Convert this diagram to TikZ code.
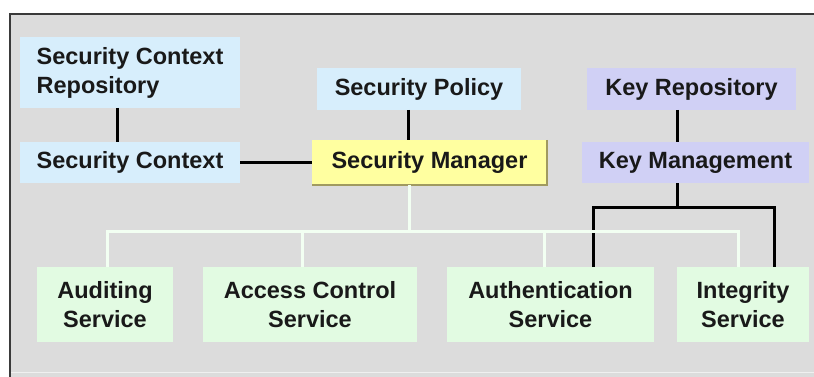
\documentclass[tikz,border=0pt]{standalone}
\usepackage{fontspec}
\setmainfont{Liberation Sans}
\definecolor{bgray}{HTML}{DCDCDC}
\definecolor{frameline}{HTML}{3A3A3A}
\definecolor{cblue}{HTML}{D7EEFC}
\definecolor{clav}{HTML}{D0D0F5}
\definecolor{cgreen}{HTML}{E2FBE2}
\definecolor{cyel}{HTML}{FFFFA0}
\definecolor{cyedge}{HTML}{A09A60}
\definecolor{clight}{HTML}{F2FFF2}
\tikzset{
  box/.style={rectangle, inner sep=0pt, outer sep=0pt, font=\fontsize{23.5}{29}\selectfont\bfseries, text=black!90, align=center},
  bluebox/.style={box, fill=cblue},
  lavbox/.style={box, fill=clav},
  greenbox/.style={box, fill=cgreen, minimum height=75pt},
  yelbox/.style={box, fill=cyel},
  blackline/.style={draw=black, line width=3pt},
  lightline/.style={draw=clight, line width=3pt},
}
\begin{document}
\begin{tikzpicture}[x=1pt,y=-1pt]
\useasboundingbox (0,0) rectangle (814,377);
\clip (0,0) rectangle (814,377);
\fill[white] (0,0) rectangle (814,377);
\draw[fill=bgray, draw=frameline, line width=2pt] (10,14) rectangle (840,400);
\draw[draw=black!6!white, line width=1.5pt] (11,372.5) -- (814,372.5);

% nodes
\node[bluebox, minimum width=220pt, minimum height=71pt, align=left] (scr) at (130,72.5) {Security Context\\Repository};
\node[bluebox, minimum width=220pt, minimum height=41pt] (sc) at (130,162.5) {Security Context};
\node[bluebox, minimum width=204pt, minimum height=42pt] (sp) at (419,89) {Security Policy};
\node[yelbox, minimum width=235pt, minimum height=45pt] (sm) at (429.5,162.5) {Security Manager};
\node[lavbox, minimum width=209pt, minimum height=42pt] (kr) at (691.5,89) {Key Repository};
\node[lavbox, minimum width=227pt, minimum height=41pt] (km) at (695.5,162.5) {Key Management};
\node[greenbox, minimum width=136pt] (aud) at (105,304.5) {Auditing\\Service};
\node[greenbox, minimum width=214pt] (acc) at (310,304.5) {Access Control\\Service};
\node[greenbox, minimum width=207pt] (auth) at (550.5,304.5) {Authentication\\Service};
\node[greenbox, minimum width=132pt] (integ) at (743,304.5) {Integrity\\Service};

\draw[draw=cyedge, line width=1.2pt] (sm.north east) -- (sm.south east) -- (sm.south west);

% helper coordinates
\coordinate (xa) at (117,0);
\coordinate (xb) at (408,0);
\coordinate (xc) at (677,0);
\coordinate (kj) at (677,207);
\coordinate (xauthk) at (593,0);
\coordinate (xintk) at (774,0);
\coordinate (lj) at (409,231);
\coordinate (xaud) at (107,0);
\coordinate (xacc) at (302,0);
\coordinate (xauth) at (544,0);
\coordinate (xint) at (738,0);

% black connectors
\draw[blackline] (scr.south -| xa) -- (sc.north -| xa);
\draw[blackline] (sc.east) -- (sm.west);
\draw[blackline] (sp.south -| xb) -- (sm.north -| xb);
\draw[blackline] (kr.south -| xc) -- (km.north -| xc);
\draw[blackline] (km.south -| kj) -- (kj);
\draw[blackline] (auth.north -| xauthk) |- (kj) -| (integ.north -| xintk);

% light connectors
\draw[lightline] (sm.south -| lj) -- (lj);
\draw[lightline] (aud.north -| xaud) |- (lj) -| (integ.north -| xint);
\draw[lightline] (acc.north -| xacc) -- (lj -| xacc);
\draw[lightline] (auth.north -| xauth) -- (lj -| xauth);
\end{tikzpicture}
\end{document}
